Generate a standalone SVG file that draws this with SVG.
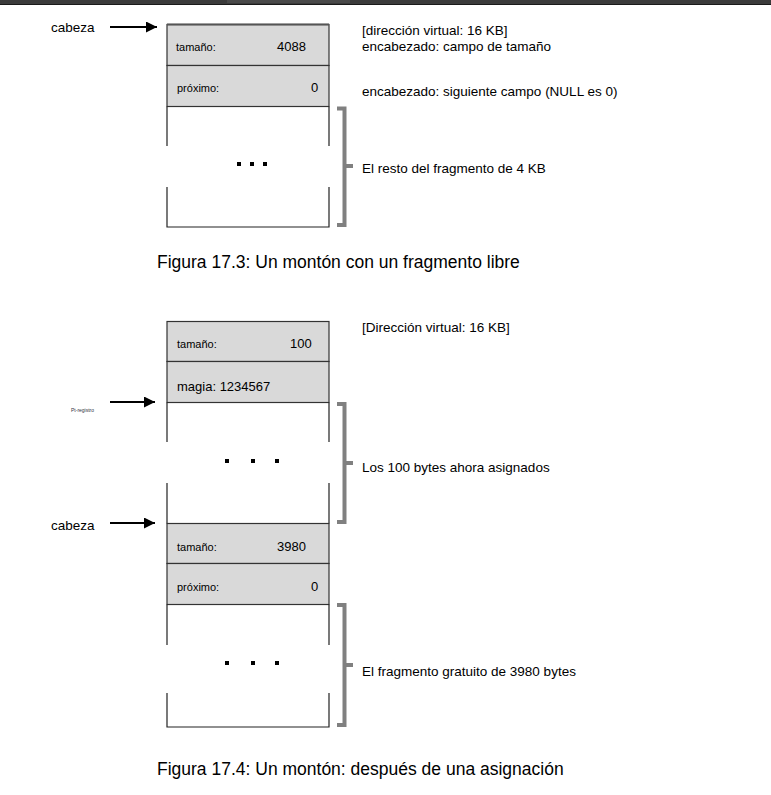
<svg xmlns="http://www.w3.org/2000/svg" width="771" height="795" viewBox="0 0 771 795">
<defs>
<style>
text{font-family:"Liberation Sans",Arial,sans-serif;fill:#000}
.cell{fill:#d9d9d9;stroke:#333;stroke-width:1.2}
.side{stroke:#222;stroke-width:1.2;fill:none}
.brace{stroke:#808080;stroke-width:4;fill:none}
.arr{stroke:#000;stroke-width:2.2;fill:none}
.lbl{font-size:13.5px}
.fld{font-size:11px}
.val{font-size:13px}
.cap{font-size:17.5px}
.dot{fill:#000}
</style>
<marker id="ah" viewBox="0 0 10 10" refX="10" refY="5" markerWidth="13" markerHeight="11" markerUnits="userSpaceOnUse" orient="auto">
<path d="M0,0 L10,5 L0,10 z" fill="#000"/>
</marker>
</defs>
<rect x="0" y="0" width="771" height="4" fill="#3b3b3b"/>
<rect x="227" y="0" width="123" height="3" fill="#4a4a4a"/>
<line x1="0" y1="4.5" x2="771" y2="4.5" stroke="#1a1a1a" stroke-width="1"/>

<g id="fig1-heap">
<rect class="cell" x="167" y="24.5" width="162" height="41"/>
<line x1="167" y1="24.5" x2="329" y2="24.5" stroke="#555" stroke-width="2"/>
<rect class="cell" x="167" y="65.5" width="162" height="41"/>
<text class="fld" x="176" y="51">tamaño:</text>
<text class="val" x="277" y="51">4088</text>
<text class="fld" x="177" y="92">próximo:</text>
<text class="val" x="311" y="92">0</text>
<path class="side" d="M167,106.5 V146 M329,106.5 V146 M167,187 V227 H329 V187"/>
<rect class="dot" x="237" y="162" width="4" height="4"/>
<rect class="dot" x="250" y="162" width="4" height="4"/>
<rect class="dot" x="263" y="162" width="4" height="4"/>
</g>

<g id="fig2-heap">
<rect class="cell" x="167" y="321.5" width="162" height="40"/>
<rect class="cell" x="167" y="361.5" width="162" height="41"/>
<text class="fld" x="177" y="348">tamaño:</text>
<text class="val" x="290" y="348">100</text>
<text class="val" x="177" y="391">magia: 1234567</text>
<path class="side" d="M167,402.5 V442 M329,402.5 V442 M167,483 V523.5 M329,483 V523.5"/>
<rect class="dot" x="225" y="459" width="4" height="4"/>
<rect class="dot" x="251" y="459" width="4" height="4"/>
<rect class="dot" x="275" y="459" width="4" height="4"/>
<rect class="cell" x="167" y="523.5" width="162" height="40"/>
<rect class="cell" x="167" y="563.5" width="162" height="41"/>
<text class="fld" x="177" y="551">tamaño:</text>
<text class="val" x="277" y="551">3980</text>
<text class="fld" x="177" y="591">próximo:</text>
<text class="val" x="311" y="591">0</text>
<path class="side" d="M167,604.5 V645 M329,604.5 V645 M167,693 V727 H329 V693"/>
<rect class="dot" x="225" y="661" width="4" height="4"/>
<rect class="dot" x="251" y="661" width="4" height="4"/>
<rect class="dot" x="275" y="661" width="4" height="4"/>
</g>

<g id="labels">
<text class="lbl" x="51" y="32">cabeza</text>
<text class="lbl" x="362" y="35">[dirección virtual: 16 KB]</text>
<text class="lbl" x="362" y="51">encabezado: campo de tamaño</text>
<text class="lbl" x="362" y="96">encabezado: siguiente campo (NULL es 0)</text>
<text class="lbl" x="362" y="173">El resto del fragmento de 4 KB</text>
<text class="cap" x="157" y="268">Figura 17.3: Un montón con un fragmento libre</text>
<text class="lbl" x="362" y="332">[Dirección virtual: 16 KB]</text>
<text x="71" y="412" style="font-size:5px;fill:#334">Pt-registro</text>
<text class="lbl" x="362" y="472">Los 100 bytes ahora asignados</text>
<text class="lbl" x="51" y="530">cabeza</text>
<text class="lbl" x="362" y="676">El fragmento gratuito de 3980 bytes</text>
<text class="cap" x="157" y="775">Figura 17.4: Un montón: después de una asignación</text>
</g>

<g id="connectors">
<line class="arr" x1="110" y1="27" x2="157" y2="27" marker-end="url(#ah)"/>
<line class="arr" x1="110" y1="402" x2="155" y2="402" marker-end="url(#ah)"/>
<line class="arr" x1="110" y1="523" x2="155" y2="523" marker-end="url(#ah)"/>
<path class="brace" d="M337,108.5 H344.5 V225 H337 M344.5,166 H353"/>
<path class="brace" d="M337,404 H344.5 V522 H337 M344.5,463 H353"/>
<path class="brace" d="M337,605 H344.5 V725 H337 M344.5,665 H353"/>
</g>
</svg>
